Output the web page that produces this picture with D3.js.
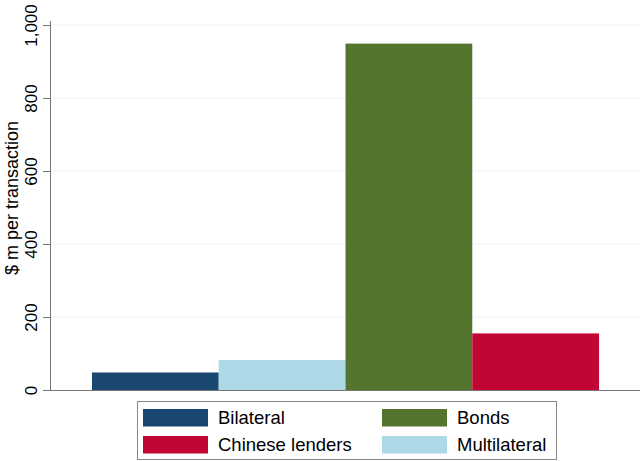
<!DOCTYPE html>
<html><head><meta charset="utf-8">
<script src="https://cdn.jsdelivr.net/npm/d3@7"></script>
<style>body{margin:0;background:#fff;} svg{display:block;font-family:"Liberation Sans",Arial,sans-serif;}</style>
</head><body>
<div id="chart"></div>
<script>
const categories = ["Bilateral", "Multilateral", "Bonds", "Chinese lenders"];
const values = [48, 82, 949, 155];
const colors = ["#1a476f", "#add8e6", "#55752f", "#c10534"];
const yTicks = [0, 200, 400, 600, 800, 1000];
const yTitle = "$ m per transaction";
const legendOrder = ["Bilateral", "Bonds", "Chinese lenders", "Multilateral"];

const W = 642, H = 461;
const svg = d3.select("#chart").append("svg").attr("width", W).attr("height", H);

const x0 = 51, x1 = 640, yBase = 390, yTop = 25;
const x = d3.scaleBand().domain(categories).range([x0, x1]).paddingInner(0).paddingOuter(0.323);
const y = d3.scaleLinear().domain([0, 1000]).range([yBase, yTop]);

// gridlines
svg.append("g").selectAll("line").data(yTicks.filter(d => d > 0)).join("line")
  .attr("x1", x0).attr("x2", x1).attr("y1", d => y(d)).attr("y2", d => y(d))
  .attr("stroke", "#eaf2f3").attr("stroke-width", 1);

// bars
svg.append("g").selectAll("rect").data(categories).join("rect")
  .attr("x", d => x(d)).attr("width", x.bandwidth())
  .attr("y", (d, i) => y(values[i])).attr("height", (d, i) => yBase - y(values[i]))
  .attr("fill", (d, i) => colors[i]);

// y axis
const yAxis = d3.axisLeft(y).tickValues(yTicks).tickSize(8).tickPadding(0).tickFormat(d3.format(","));
const gy = svg.append("g").attr("transform", `translate(${x0},0)`).call(yAxis);
gy.select(".domain").attr("stroke", "#777").attr("d", `M-0.5,${yBase}V${yTop - 4}`);
gy.selectAll(".tick line").attr("stroke", "#777");
gy.selectAll(".tick text").attr("transform", "rotate(-90)").attr("x", 0).attr("y", -14)
  .attr("dy", 0).attr("text-anchor", "middle").attr("fill", "#000").style("font-size", "17px")
  .style("font-family", "Liberation Sans, Arial, sans-serif");

// x axis line
svg.append("line").attr("x1", x0).attr("x2", x1).attr("y1", yBase + 0.5).attr("y2", yBase + 0.5)
  .attr("stroke", "#777").attr("stroke-width", 1);

// y title
svg.append("text").attr("transform", `translate(18,198) rotate(-90)`).attr("text-anchor", "middle")
  .style("font-size", "18px").text(yTitle);

// legend
const lg = svg.append("g");
lg.append("rect").attr("x", 137.5).attr("y", 401.5).attr("width", 419).attr("height", 58)
  .attr("fill", "#fff").attr("stroke", "#888").attr("stroke-width", 1);
legendOrder.forEach((name, k) => {
  const col = k % 2, row = Math.floor(k / 2);
  const sx = col === 0 ? 143 : 382;
  const sy = row === 0 ? 409 : 436;
  const c = colors[categories.indexOf(name)];
  lg.append("rect").attr("x", sx).attr("y", sy).attr("width", 65).attr("height", 17.5).attr("fill", c);
  lg.append("text").attr("x", sx + 75).attr("y", sy + 15).style("font-size", "18.5px").text(name);
});
</script>
</body></html>
